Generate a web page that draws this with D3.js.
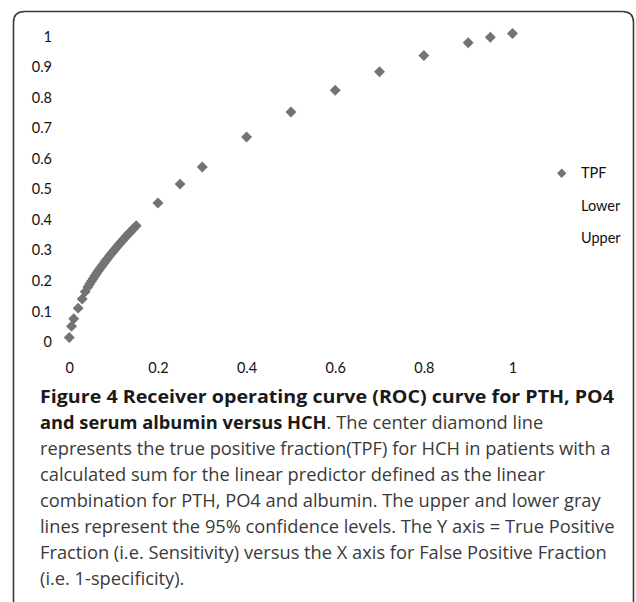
<!DOCTYPE html>
<html>
<head>
<meta charset="utf-8">
<script src="https://cdn.jsdelivr.net/npm/d3@7"></script>
<style>
html,body{margin:0;padding:0;background:#fff;}
svg{display:block;}
</style>
</head>
<body>
<svg id="chart" width="636" height="602"></svg>
<script>
// ---- data ----
const fpf = [0, 0.005, 0.010, 0.020, 0.029, 0.036, 0.042, 0.046, 0.050, 0.054, 0.058, 0.062, 0.066, 0.070, 0.074, 0.078, 0.082, 0.086, 0.090, 0.094, 0.098, 0.102, 0.106, 0.110, 0.114, 0.118, 0.122, 0.126, 0.130, 0.134, 0.138, 0.142, 0.146, 0.151, 0.20, 0.25, 0.30, 0.40, 0.50, 0.60, 0.70, 0.80, 0.90, 0.95, 1.00];
const tpf = [0.005, 0.042, 0.066, 0.101, 0.131, 0.155, 0.170, 0.180, 0.189, 0.198, 0.207, 0.216, 0.224, 0.232, 0.240, 0.248, 0.256, 0.263, 0.271, 0.278, 0.285, 0.292, 0.299, 0.306, 0.313, 0.319, 0.326, 0.332, 0.339, 0.345, 0.351, 0.357, 0.363, 0.371, 0.445, 0.507, 0.563, 0.661, 0.743, 0.814, 0.875, 0.928, 0.970, 0.988, 1.000];
const xTicks = [0, 0.2, 0.4, 0.6, 0.8, 1];
const yTicks = [0, 0.1, 0.2, 0.3, 0.4, 0.5, 0.6, 0.7, 0.8, 0.9, 1];
const legendLabels = ["TPF", "Lower", "Upper"];
const captionLines = [
  [{t: "Figure 4 Receiver operating curve (ROC) curve for PTH, PO4", b: true}],
  [{t: "and serum albumin versus HCH", b: true}, {t: ". The center diamond line", b: false}],
  [{t: "represents the true positive fraction(TPF) for HCH in patients with a", b: false}],
  [{t: "calculated sum for the linear predictor defined as the linear", b: false}],
  [{t: "combination for PTH, PO4 and albumin. The upper and lower gray", b: false}],
  [{t: "lines represent the 95% confidence levels. The Y axis = True Positive", b: false}],
  [{t: "Fraction (i.e. Sensitivity) versus the X axis for False Positive Fraction", b: false}],
  [{t: "(i.e. 1-specificity).", b: false}]
];

// ---- drawing ----
const svg = d3.select("#chart");
const markColor = "#737373";
const tickFont = "Lato, 'Open Sans', sans-serif";

// frame (rounded, open at bottom)
const fl = 13.5, ft = 11.5, fr = 633.5, rad = 11;
svg.append("path")
  .attr("d", `M${fl},610 L${fl},${ft + rad} Q${fl},${ft} ${fl + rad},${ft} L${fr - rad},${ft} Q${fr},${ft} ${fr},${ft + rad} L${fr},610`)
  .attr("fill", "none").attr("stroke", "#3a3a3a").attr("stroke-width", 1.6);

const x = d3.scaleLinear().domain([0, 1]).range([69.3, 512.5]);
const y = d3.scaleLinear().domain([0, 1]).range([339, 33.5]);

// y axis labels
const yAxis = d3.axisLeft(y).tickValues(yTicks).tickSize(0).tickPadding(0)
  .tickFormat(d => d3.format("~g")(d));
const gy = svg.append("g").attr("transform", "translate(52,3)").call(yAxis);
gy.select(".domain").remove();
gy.selectAll("text").attr("font-family", tickFont).attr("font-size", 14.5).attr("fill", "#111").attr("x", 0);

// x axis labels
const xAxis = d3.axisBottom(x).tickValues(xTicks).tickSize(0).tickPadding(0)
  .tickFormat(d => d3.format("~g")(d));
const gx = svg.append("g").attr("transform", "translate(0,363)").call(xAxis);
gx.select(".domain").remove();
gx.selectAll("text").attr("font-family", tickFont).attr("font-size", 14.5).attr("fill", "#111");

// points
const sym = d3.symbol().type(d3.symbolSquare).size(60);
svg.append("g").selectAll("path").data(fpf.map((v, i) => [v, tpf[i]])).join("path")
  .attr("d", sym)
  .attr("transform", d => `translate(${x(d[0])},${y(d[1])}) rotate(45)`)
  .attr("fill", markColor);

// legend
const lg = svg.append("g");
lg.append("path").attr("d", d3.symbol().type(d3.symbolSquare).size(44))
  .attr("transform", "translate(561.7,173.3) rotate(45)").attr("fill", markColor);
lg.selectAll("text").data(legendLabels).join("text")
  .attr("x", 581).attr("y", (d, i) => 173.3 + i * 32.4)
  .attr("dy", "0.35em")
  .attr("font-family", tickFont).attr("font-size", 14.5).attr("fill", "#111")
  .text(d => d);

// caption
const cap = svg.append("g");
const capFont = "'Open Sans', 'Noto Sans', sans-serif";
captionLines.forEach((parts, i) => {
  const t = cap.append("text").attr("x", 40).attr("y", 403 + i * 26)
    .attr("font-family", capFont).attr("font-size", 18);
  parts.forEach(p => {
    t.append("tspan").text(p.t)
      .attr("font-weight", p.b ? 700 : 400)
      .attr("fill", p.b ? "#1a1a1a" : "#3a3a3a");
  });
});
// scale caption horizontally so line 3 spans the reference width
const capNodes = cap.selectAll("text").nodes();
const ref = capNodes[2].getComputedTextLength();
const k = 571 / ref;
cap.attr("transform", `translate(40,0) scale(${k},1) translate(-40,0)`);
// first (bold) line spans the full width in the reference
d3.select(capNodes[0]).attr("textLength", 574 / k).attr("lengthAdjust", "spacingAndGlyphs");
</script>
</body>
</html>
